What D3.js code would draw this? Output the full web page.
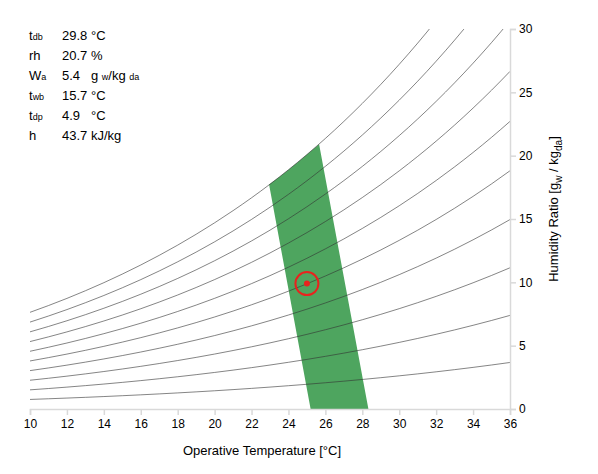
<!DOCTYPE html>
<html><head><meta charset="utf-8">
<script src="https://cdn.jsdelivr.net/npm/d3@7"></script>
<style>
body{margin:0;background:#fff}
text{font-family:"Liberation Sans",Arial,Helvetica,sans-serif;fill:#000}
</style>
</head><body>
<svg id="chart" width="598" height="474"></svg>
<script>
// ---- data ----
const temps = [10,11,12,13,14,15,16,17,18,19,20,21,22,23,24,25,26,27,28,29,30,31,32,33,34,35,36];
const psatKPa = [1.2282,1.3130,1.4028,1.4981,1.5990,1.7058,1.8188,1.9384,2.0647,2.1983,2.3393,2.4882,2.6453,2.8111,2.9858,3.1699,3.3639,3.5681,3.7831,4.0092,4.2470,4.4969,4.7596,5.0354,5.3251,5.6290,5.9479];
const rhLevels = [0.1,0.2,0.3,0.4,0.5,0.6,0.7,0.8,0.9,1.0];
const xTicks = [10,12,14,16,18,20,22,24,26,28,30,32,34,36];
const yTicks = [0,5,10,15,20,25,30];
const comfortZone = [[25.2,0],[28.33,0],[25.66,20.9],[25.0,20.09],[24.5,19.48],[24.0,18.88],[23.5,18.31],[22.95,17.72]];
const currentPoint = [25.0, 9.9];
const infoNames = [["t","db"],["rh",""],["W","a"],["t","wb"],["t","dp"],["h",""]];
const infoValues = ["29.8","20.7","5.4","15.7","4.9","43.7"];
const infoUnits = [[["°C",""]],[["%",""]],[["g ",""],["","w"],["/kg ",""],["","da"]],[["°C",""]],[["°C",""]],[["kJ/kg",""]]];
const patm = 101.325;

// ---- chart ----
const svg = d3.select("#chart");
const x = d3.scaleLinear().domain([10,36]).range([30,510]);
const y = d3.scaleLinear().domain([0,30]).range([409,29]);

svg.append("defs").append("clipPath").attr("id","clip")
  .append("rect").attr("x",30).attr("y",29).attr("width",480).attr("height",380);

const plot = svg.append("g").attr("clip-path","url(#clip)");

plot.append("path")
  .datum(comfortZone)
  .attr("d", d3.line().x(d=>x(d[0])).y(d=>y(d[1])).curve(d3.curveLinearClosed))
  .attr("fill","#4ea55f");

const line = d3.line().x(d=>x(d[0])).y(d=>y(d[1])).curve(d3.curveMonotoneX);
rhLevels.forEach(rh=>{
  const pts = temps.map((t,i)=>{
    const pw = rh*psatKPa[i];
    return [t, 622*pw/(patm-pw)];
  });
  plot.append("path").datum(pts).attr("d",line)
    .attr("fill","none").attr("stroke","#333").attr("stroke-opacity",0.75).attr("stroke-width",0.8);
});

svg.append("circle").attr("cx",x(currentPoint[0])).attr("cy",y(currentPoint[1])).attr("r",11.5)
  .attr("fill","none").attr("stroke","#e8231e").attr("stroke-width",2);
svg.append("circle").attr("cx",x(currentPoint[0])).attr("cy",y(currentPoint[1])).attr("r",3)
  .attr("fill","#e8231e");

// axes
const xAxis = svg.append("g").attr("transform","translate(0,409)")
  .call(d3.axisBottom(x).tickValues(xTicks).tickSize(6).tickPadding(4));
const yAxis = svg.append("g").attr("transform","translate(510,0)")
  .call(d3.axisRight(y).tickValues(yTicks).tickSize(6).tickPadding(3));
[xAxis,yAxis].forEach(a=>{
  a.selectAll("path,line").attr("stroke","#d9d9d9").attr("stroke-width",1.5);
  a.selectAll("text").attr("font-size",12).attr("fill","#000")
    .attr("font-family",'"Liberation Sans",Arial,sans-serif');
});

svg.append("text").attr("x",262).attr("y",455).attr("text-anchor","middle")
  .attr("font-size",13).text("Operative Temperature [°C]");

const yl = svg.append("text").attr("transform","translate(558,209) rotate(-90)")
  .attr("text-anchor","middle").attr("font-size",13);
yl.append("tspan").text("Humidity Ratio [g");
yl.append("tspan").attr("font-size",10).attr("dy",4).text("w");
yl.append("tspan").attr("dy",-4).text(" / kg");
yl.append("tspan").attr("font-size",10).attr("dy",4).text("da");
yl.append("tspan").attr("dy",-4).text("]");

// info block
infoNames.forEach((n,i)=>{
  const by = 40 + i*20;
  const t = svg.append("text").attr("x",29).attr("y",by).attr("font-size",13);
  t.append("tspan").text(n[0]);
  if(n[1]) t.append("tspan").attr("font-size",9).text(n[1]);
  svg.append("text").attr("x",62).attr("y",by).attr("font-size",13).text(infoValues[i]);
  const u = svg.append("text").attr("x",91).attr("y",by).attr("font-size",13);
  infoUnits[i].forEach(p=>{
    if(p[0]) u.append("tspan").text(p[0]);
    if(p[1]) u.append("tspan").attr("font-size",9).text(p[1]);
  });
});
</script>
</body></html>
